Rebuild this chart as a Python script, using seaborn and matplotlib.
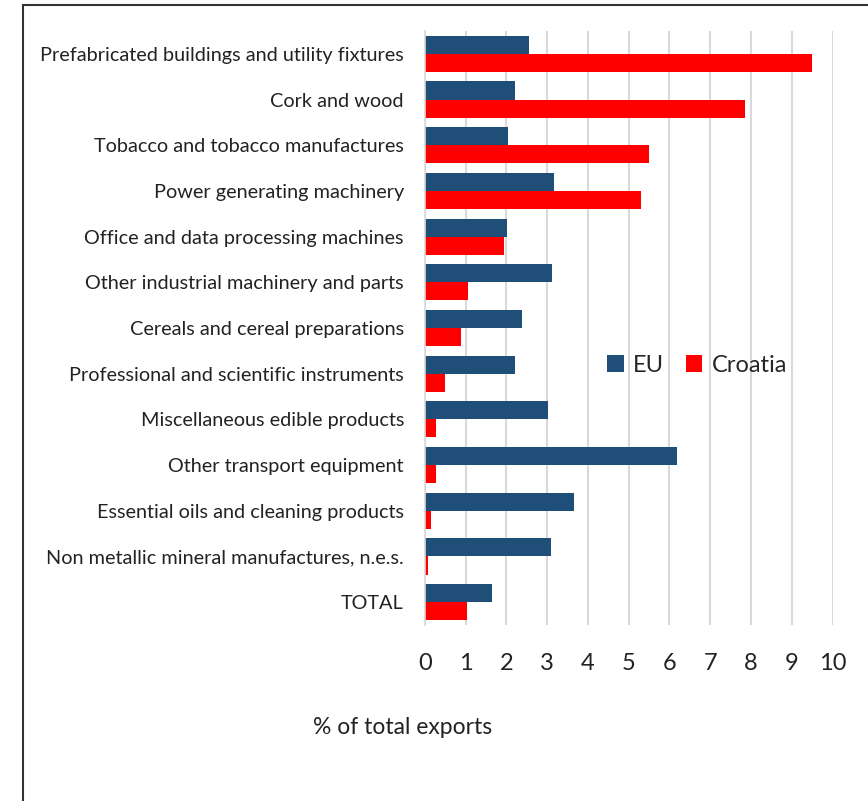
import pandas as pd
import matplotlib
matplotlib.use('Agg')
import matplotlib.pyplot as plt
from matplotlib.patches import Rectangle
import seaborn as sns

# Data (% of total exports)
categories = [
    'Prefabricated buildings and utility fixtures',
    'Cork and wood',
    'Tobacco and tobacco manufactures',
    'Power generating machinery',
    'Office and data processing machines',
    'Other industrial machinery and parts',
    'Cereals and cereal preparations',
    'Professional and scientific instruments',
    'Miscellaneous edible products',
    'Other transport equipment',
    'Essential oils and cleaning products',
    'Non metallic mineral manufactures, n.e.s.',
    'TOTAL',
]
eu_values = [2.55, 2.22, 2.05, 3.17, 2.02, 3.12, 2.39, 2.22, 3.03, 6.18, 3.65, 3.09, 1.65]
croatia_values = [9.49, 7.86, 5.50, 5.30, 1.94, 1.07, 0.90, 0.50, 0.28, 0.28, 0.16, 0.07, 1.03]
series_names = ['EU', 'Croatia']
series_colors = ['#1F4E79', '#FF0000']
x_ticks = list(range(0, 11))

df = pd.DataFrame({
    'category': categories * 2,
    'value': eu_values + croatia_values,
    'series': [series_names[0]] * len(categories) + [series_names[1]] * len(categories),
})

sns.set_style('white')
plt.rcParams['font.family'] = ['Lato', 'DejaVu Sans']

fig = plt.figure(figsize=(8.68, 8.01), dpi=100)
ax = fig.add_axes([0.4893, 0.2197, 0.9593 - 0.4893, 0.9613 - 0.2197])

sns.barplot(data=df, y='category', x='value', hue='series', orient='h',
            palette=dict(zip(series_names, series_colors)), width=0.79,
            saturation=1, linewidth=0, ax=ax, legend=True)

ax.set_xlim(0, 10)
ax.set_ylim(len(categories) - 0.5, -0.5)
ax.set_xticks(x_ticks)
ax.set_xticklabels([str(t) for t in x_ticks], fontsize=17, color='#222222')
ax.tick_params(axis='x', length=0, pad=20)
ax.tick_params(axis='y', length=0, pad=15, labelsize=14.3, labelcolor='#222222')
ax.set_xlabel('')
ax.set_ylabel('')
ax.grid(axis='x', color='#d9d9d9', linewidth=1.5)
ax.set_axisbelow(True)
for side in ['top', 'right', 'bottom']:
    ax.spines[side].set_visible(False)
ax.spines['left'].set_color('#d9d9d9')
ax.spines['left'].set_linewidth(1.2)

handles, labels = ax.get_legend_handles_labels()
ax.get_legend().remove()
fig.legend(handles, labels, loc='center', bbox_to_anchor=(0.803, 0.544), ncol=2,
           frameon=False, fontsize=17, handlelength=0.7, handleheight=0.7,
           handletextpad=0.4, columnspacing=0.9)

fig.text(0.464, 1 - 728 / 801, '% of total exports', ha='center', va='center',
         fontsize=16.5, color='#222222')

# outer frame
fig.patches.append(Rectangle((23 / 868, -0.1), 1.2, 1 - 5 / 801 + 0.1,
                             transform=fig.transFigure, fill=False,
                             edgecolor='#333333', linewidth=1.5))

fig.savefig('out.png', dpi=100)
